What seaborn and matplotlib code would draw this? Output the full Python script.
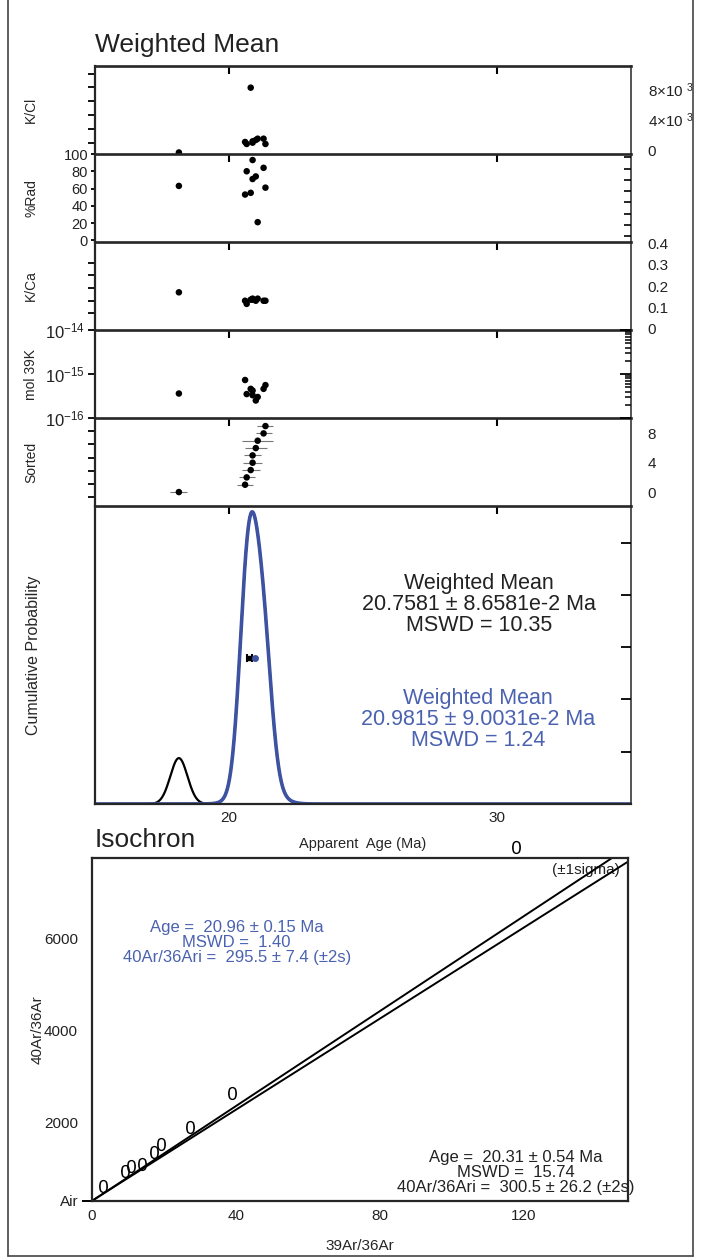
import numpy as np
import matplotlib
matplotlib.use("Agg")
import matplotlib.pyplot as plt
from matplotlib.lines import Line2D
from matplotlib.ticker import NullLocator, LogLocator
import seaborn as sns

# step data (one value per heating step)
step_age = [18.13, 20.60, 20.66, 20.81, 20.88, 20.88, 21.00, 21.07, 21.29, 21.36]
step_err = [0.32, 0.30, 0.30, 0.34, 0.34, 0.32, 0.40, 0.59, 0.30, 0.30]
k_cl = [-300, 1070, 810, 8170, 1160, 980, 1330, 1500, 1500, 810]
rad_pct = [63, 53, 80, 55, 93, 71, 74, 21, 84, 61]
k_ca = [0.17, 0.13, 0.115, 0.135, 0.14, 0.135, 0.13, 0.14, 0.13, 0.13]
mol_39k = [3.6e-16, 7.3e-16, 3.5e-16, 4.6e-16, 4.2e-16, 3.3e-16, 2.5e-16, 3.0e-16, 4.6e-16, 5.6e-16]
plateau = [False, True, True, True, True, True, True, True, True, True]

# weighted means
wm_all = (20.7581, 0.086581)
wm_plateau = (20.9815, 0.090031)

# isochron
iso_x = [3.06, 9.1, 10.9, 14.0, 17.2, 19.3, 27.3, 38.9, 118.0]
iso_y = [630, 956, 1065, 1102, 1354, 1537, 1898, 2645, 7978]
iso_intercept = [295.5, 300.5]
iso_slope = [51.5, 49.4]

BLUE = "#3d52a0"
TBLUE = "#4a62b0"

sns.set_style("ticks")
plt.rcParams["font.family"] = ["Liberation Sans", "DejaVu Sans"]
plt.rcParams["mathtext.fontset"] = "custom"
plt.rcParams["mathtext.rm"] = "Liberation Sans"
plt.rcParams["mathtext.it"] = "Liberation Sans:italic"
plt.rcParams["text.color"] = "#222222"
plt.rcParams["xtick.color"] = "black"
plt.rcParams["ytick.color"] = "black"
plt.rcParams["xtick.labelcolor"] = "#222222"
plt.rcParams["ytick.labelcolor"] = "#222222"

W, H = 701, 1260
fig = plt.figure(figsize=(W / 100, H / 100), dpi=100)


def px_axes(x0, y0, x1, y1):
    return fig.add_axes([x0 / W, 1 - y1 / H, (x1 - x0) / W, (y1 - y0) / H])


def style_panel(ax, bottom=False):
    ax.set_xlim(15, 35)
    ax.set_xticks([20, 30])
    ax.tick_params(axis="x", bottom=False, top=True, direction="in",
                   length=6, width=1.5, labelbottom=bottom, labelsize=11)
    ax.spines["top"].set_linewidth(1.9)
    ax.spines["left"].set_linewidth(1.6)
    ax.spines["right"].set_linewidth(1.1)
    ax.spines["bottom"].set_visible(bottom)
    ax.spines["bottom"].set_linewidth(1.6)
    ax.tick_params(axis="y", direction="out", length=5, width=1.3,
                   labelsize=11, pad=2)
    ax.yaxis.set_label_coords(-0.106, 0.5)


def right_axis(ax):
    tw = ax.twinx()
    tw.set_ylim(ax.get_ylim())
    for s in tw.spines.values():
        s.set_visible(False)
    return tw


left, right = 95, 631
panels = [(66, 154), (154, 242), (242, 330), (330, 418), (418, 506), (506, 804)]
axs = [px_axes(left, a, right, b) for a, b in panels]

# K/Cl
ax = axs[0]
sns.scatterplot(x=step_age, y=k_cl, ax=ax, color="black", s=22,
                edgecolor="none", legend=False)
ax.set_ylim(-500, 11000)
ax.set_yticks(np.arange(1000, 10001, 1800))
ax.set_yticklabels([])
style_panel(ax)
ax.set_ylabel("K/Cl", fontsize=10)
tw = right_axis(ax)
tw.set_yticks([0, 4000, 8000])
tw.set_yticklabels(["0", r"4$\times$10 $^{3}$", r"8$\times$10 $^{3}$"])
tw.tick_params(axis="y", length=0, pad=12, labelsize=11)

# %Rad
ax = axs[1]
sns.scatterplot(x=step_age, y=rad_pct, ax=ax, color="black", s=22,
                edgecolor="none", legend=False)
ax.set_ylim(-2, 100)
ax.set_yticks([0, 20, 40, 60, 80, 100])
style_panel(ax)
ax.tick_params(axis="y", length=3, labelsize=10.5)
ax.set_ylabel("%Rad", fontsize=10)
tw = right_axis(ax)
tw.set_yticks(np.arange(5, 100, 13))
tw.set_yticklabels([])
tw.tick_params(axis="y", direction="in", length=5, width=1.2)

# K/Ca
ax = axs[2]
sns.scatterplot(x=step_age, y=k_ca, ax=ax, color="black", s=22,
                edgecolor="none", legend=False)
ax.set_ylim(-0.009, 0.409)
ax.set_yticks(np.arange(0.07, 0.32, 0.06))
ax.set_yticklabels([])
style_panel(ax)
ax.set_ylabel("K/Ca", fontsize=10)
tw = right_axis(ax)
tw.set_yticks([0, 0.1, 0.2, 0.3, 0.4])
tw.set_yticklabels(["0", "0.1", "0.2", "0.3", "0.4"])
tw.tick_params(axis="y", length=0, pad=12, labelsize=11)

# mol 39K
ax = axs[3]
sns.scatterplot(x=step_age, y=mol_39k, ax=ax, color="black", s=22,
                edgecolor="none", legend=False)
ax.set_yscale("log")
ax.set_ylim(1e-16, 1e-14)
ax.set_yticks([1e-16, 1e-15, 1e-14])
ax.set_yticklabels([r"10$^{-16}$", r"10$^{-15}$", r"10$^{-14}$"])
ax.yaxis.set_minor_locator(NullLocator())
style_panel(ax)
ax.tick_params(axis="y", labelsize=12)
ax.set_ylabel("mol 39K", fontsize=10)
tw = ax.twinx()
tw.set_yscale("log")
tw.set_ylim(1e-16, 1e-14)
for s in tw.spines.values():
    s.set_visible(False)
tw.yaxis.set_major_locator(LogLocator(base=10))
tw.yaxis.set_minor_locator(LogLocator(base=10, subs=np.arange(2, 10)))
tw.tick_params(axis="y", which="major", direction="in", length=8, width=1.3, labelright=False)
tw.tick_params(axis="y", which="minor", direction="in", length=4, width=1.1, labelright=False)

# Sorted
ax = axs[4]
order = np.argsort(step_age, kind="stable")
s_age = np.array(step_age)[order]
s_err = np.array(step_err)[order]
rank = np.arange(len(s_age))
ax.errorbar(s_age, rank, xerr=s_err, fmt="none", ecolor="#777777", elinewidth=0.8)
sns.scatterplot(x=s_age, y=rank, ax=ax, color="black", s=22,
                edgecolor="none", legend=False, zorder=3)
ax.set_ylim(-1.9, 10.1)
ax.set_yticks(np.arange(-0.7, 8.5, 1.8))
ax.set_yticklabels([])
style_panel(ax)
ax.set_ylabel("Sorted", fontsize=10)
tw = right_axis(ax)
tw.set_yticks([0, 4, 8])
tw.set_yticklabels(["0", "4", "8"])
tw.tick_params(axis="y", length=0, pad=12, labelsize=11)

# Cumulative probability
ax = axs[5]
grid = np.linspace(15, 35, 2001)
ages = np.array(step_age)
errs = np.array(step_err)
dens = np.exp(-0.5 * ((grid[:, None] - ages) / errs) ** 2) / (errs * np.sqrt(2 * np.pi))
curve_all = dens.sum(axis=1)
curve_plat = dens[:, np.array(plateau)].sum(axis=1)
sns.lineplot(x=grid, y=curve_all, ax=ax, color="black", lw=1.6)
sns.lineplot(x=grid, y=curve_plat, ax=ax, color=BLUE, lw=2.6)
peak = curve_all.max()
ax.set_ylim(0, peak * 1.02)
ymid = peak / 2
ax.errorbar([wm_all[0]], [ymid], xerr=[wm_all[1]], fmt="s", color="black",
            ms=3.5, capsize=3, elinewidth=1.5, capthick=1.5, zorder=4)
ax.errorbar([wm_plateau[0]], [ymid], xerr=[wm_plateau[1]], fmt="o", color=BLUE,
            ms=4, elinewidth=1.5, zorder=4)
ax.set_yticks([])
style_panel(ax, bottom=True)
ax.tick_params(axis="x", pad=5)
ax.yaxis.set_label_coords(-0.1, 0.5)
ax.set_ylabel("Cumulative Probability", fontsize=11.5)
ax.set_xlabel("Apparent  Age (Ma)", fontsize=10.5, labelpad=9)
tw = ax.twinx()
tw.set_ylim(0, 5.7)
for s in tw.spines.values():
    s.set_visible(False)
tw.set_yticks([1, 2, 3, 4, 5])
tw.tick_params(axis="y", direction="in", length=7, width=1.3, labelright=False)
ax.text(0.716, 0.671,
        "Weighted Mean\n%.4f ± %.4fe-2 Ma\nMSWD = 10.35" % (wm_all[0], wm_all[1] * 100),
        transform=ax.transAxes, ha="center", va="center", fontsize=15.5,
        color="#222222", linespacing=1.0)
ax.text(0.714, 0.282,
        "Weighted Mean\n%.4f ± %.4fe-2 Ma\nMSWD = 1.24" % (wm_plateau[0], wm_plateau[1] * 100),
        transform=ax.transAxes, ha="center", va="center", fontsize=15.5,
        color=TBLUE, linespacing=1.0)

fig.text(95 / W, 1 - 45 / H, "Weighted Mean", fontsize=19, va="center", ha="left")

# Isochron
ax = px_axes(92, 858, 628, 1201)
xs = np.array([0, 149])
for b, m in zip(iso_intercept, iso_slope):
    sns.lineplot(x=xs, y=b + m * xs, ax=ax, color="black", lw=1.4)
ax.scatter(iso_x, iso_y, marker="$0$", s=90, color="black", linewidths=0,
           clip_on=False, zorder=4)
ax.set_xlim(0, 149)
ax.set_ylim(295.5, 7740)
ax.set_xticks([0, 40, 80, 120])
ax.set_yticks([295.5, 2000, 4000, 6000])
ax.set_yticklabels(["Air", "2000", "4000", "6000"])
ax.tick_params(axis="x", length=0, labelsize=11, pad=6)
ax.tick_params(axis="y", length=7, width=1.4, labelsize=11, pad=3)
for t in ax.yaxis.get_major_ticks()[1:]:
    t.tick1line.set_visible(False)
for s in ax.spines.values():
    s.set_linewidth(1.6)
ax.set_xlabel("39Ar/36Ar", fontsize=11, labelpad=11)
ax.set_ylabel("40Ar/36Ar", fontsize=11)
ax.yaxis.set_label_coords(-0.088, 0.5)
ax.text(0.985, 0.985, "(±1sigma)", transform=ax.transAxes, ha="right", va="top",
        fontsize=11, color="#222222", zorder=1)
ax.text(0.27, 0.755, "Age =  20.96 ± 0.15 Ma\nMSWD =  1.40\n40Ar/36Ari =  295.5 ± 7.4 (±2s)",
        transform=ax.transAxes, ha="center", va="center", fontsize=12,
        color=TBLUE, linespacing=1.0)
ax.text(0.79, 0.0845, "Age =  20.31 ± 0.54 Ma\nMSWD =  15.74\n40Ar/36Ari =  300.5 ± 26.2 (±2s)",
        transform=ax.transAxes, ha="center", va="center", fontsize=12,
        color="#222222", linespacing=1.0)
fig.text(95 / W, 1 - 840 / H, "Isochron", fontsize=19, va="center", ha="left")

# outer frame
for xy in [([8, 8], [0, 1256]), ([693, 693], [0, 1256]), ([8, 693], [1256, 1256])]:
    fig.add_artist(Line2D(np.array(xy[0]) / W, 1 - np.array(xy[1]) / H,
                          transform=fig.transFigure, color="#444444", lw=1.2))

fig.savefig("out.png", dpi=100)
